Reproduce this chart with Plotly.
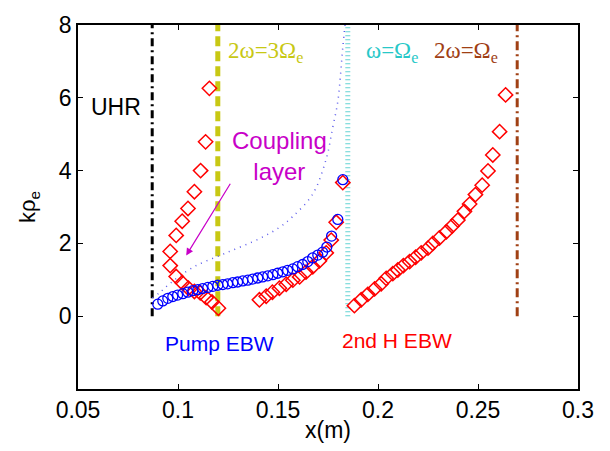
import plotly.graph_objects as go

# Pump EBW (blue circles)
pump_x = [0.0899, 0.0924, 0.0949, 0.0974, 0.0998, 0.1024, 0.1049, 0.1074, 0.1099, 0.1123,
          0.1149, 0.1174, 0.1199, 0.1224, 0.1248, 0.1274, 0.1298, 0.1324, 0.1349, 0.1373,
          0.1399, 0.1423, 0.1449, 0.1474, 0.1498, 0.1524, 0.1548, 0.1574, 0.1598, 0.1623,
          0.1649, 0.1673, 0.1699, 0.1723, 0.1744, 0.1768, 0.1799, 0.1824]
pump_k = [0.33, 0.42, 0.49, 0.54, 0.58, 0.62, 0.66, 0.70, 0.73, 0.76,
          0.79, 0.82, 0.85, 0.87, 0.89, 0.92, 0.94, 0.97, 0.99, 1.02,
          1.05, 1.08, 1.11, 1.14, 1.18, 1.22, 1.26, 1.30, 1.36, 1.42,
          1.50, 1.60, 1.68, 1.76, 1.90, 2.20, 2.66, 3.75]

# Dotted dispersion curve
curve_x = [0.0872, 0.0907, 0.0960, 0.1074, 0.1241, 0.1407, 0.1507, 0.1574, 0.1674, 0.1741,
           0.1774, 0.1799, 0.1824, 0.1835]
curve_k = [0.50, 0.64, 0.90, 1.34, 1.74, 2.13, 2.44, 2.74, 3.36, 4.32, 5.20, 5.90, 7.39, 8.0]

# 2nd harmonic EBW (red diamonds), three branches
h1_x = [0.1157, 0.1138, 0.1113, 0.1082, 0.1050, 0.1021, 0.0991, 0.0961, 0.0961, 0.0991,
        0.1021, 0.1052, 0.1082, 0.1111, 0.1141, 0.1170, 0.1202]
h1_k = [6.26, 4.79, 4.00, 3.42, 2.96, 2.61, 2.22, 1.78, 1.39, 1.09,
        0.92, 0.77, 0.68, 0.64, 0.51, 0.39, 0.22]
h2_x = [0.1407, 0.1441, 0.1472, 0.1507, 0.1541, 0.1574, 0.1608, 0.1640, 0.1674, 0.1707,
        0.1741, 0.1766, 0.1791, 0.1824]
h2_k = [0.45, 0.55, 0.66, 0.77, 0.88, 0.99, 1.08, 1.21, 1.36, 1.52,
        1.74, 2.09, 2.58, 3.67]
h3_x = [0.1882, 0.1916, 0.1949, 0.1983, 0.2016, 0.2041, 0.2074, 0.2099, 0.2127, 0.2158,
        0.2188, 0.2216, 0.2250, 0.2274, 0.2307, 0.2342, 0.2371, 0.2399, 0.2432, 0.2458,
        0.2487, 0.2521, 0.2550, 0.2574, 0.2608, 0.2638]
h3_k = [0.29, 0.45, 0.60, 0.75, 0.89, 1.04, 1.17, 1.27, 1.39, 1.50,
        1.62, 1.74, 1.87, 2.00, 2.15, 2.32, 2.48, 2.64, 2.88, 3.08,
        3.34, 3.60, 3.99, 4.43, 5.07, 6.08]

# Resonance lines
uhr_x = 0.0871
three_x = 0.1199
one_x = 0.1849
two_x = 0.2696

fig = go.Figure()

def vline(x, color, width, dash):
    fig.add_trace(go.Scatter(x=[x, x], y=[0, 8], mode="lines",
                             line=dict(color=color, width=width, dash=dash),
                             showlegend=False, hoverinfo="skip"))

vline(uhr_x, "black", 3, "8px,4px,2px,4px")
vline(three_x, "rgb(200,200,20)", 5, "10px,5px")
vline(one_x, "rgb(100,212,212)", 5, "1px,3px")
vline(two_x, "rgb(160,64,20)", 3, "9px,4px,2px,4px")

fig.add_trace(go.Scatter(x=curve_x, y=curve_k, mode="lines", line_shape="spline",
                         line=dict(color="rgb(90,90,235)", width=1.5, dash="1px,5px"),
                         showlegend=False))

mk_d = dict(symbol="diamond-open", size=11, color="red", line=dict(width=1.5, color="red"))
for xs, ks in [(h1_x, h1_k), (h2_x, h2_k), (h3_x, h3_k)]:
    fig.add_trace(go.Scatter(x=xs, y=ks, mode="markers", marker=mk_d, showlegend=False))

fig.add_trace(go.Scatter(x=pump_x, y=pump_k, mode="markers",
                         marker=dict(symbol="circle-open", size=10, color="blue",
                                     line=dict(width=1.3, color="blue")),
                         showlegend=False))

sans = "Liberation Sans"
serif = "Liberation Serif"

def ann(text, x, y, color, size=19, font=sans, xanchor="center"):
    fig.add_annotation(x=x, y=y, text=text, showarrow=False, xanchor=xanchor,
                       font=dict(family=font, size=size, color=color))

ann("UHR", 0.0690, 5.74, "black", size=23)
ann("2ω=3Ω<sub>e</sub>", 0.1238, 7.25, "rgb(200,200,20)", size=23, font=serif, xanchor="left")
ann("ω=Ω<sub>e</sub>", 0.1930, 7.25, "rgb(40,200,200)", size=23, font=serif, xanchor="left")
ann("2ω=Ω<sub>e</sub>", 0.2271, 7.25, "rgb(160,64,20)", size=23, font=serif, xanchor="left")
ann("Coupling<br>layer", 0.1508, 4.39, "rgb(200,0,200)", size=24)
ann("Pump EBW", 0.1208, -0.75, "blue", size=21)
ann("2nd H EBW", 0.2095, -0.68, "red", size=21)

fig.add_annotation(x=0.1041, y=1.67, ax=0.1266, ay=3.68, xref="x", yref="y",
                   axref="x", ayref="y", text="", showarrow=True, arrowhead=2,
                   arrowsize=1.2, arrowwidth=1.2, arrowcolor="rgb(200,0,200)")

axis_common = dict(showline=True, linecolor="black", linewidth=1.5, mirror="ticks",
                   ticks="inside", ticklen=5, tickcolor="black", showgrid=False,
                   zeroline=False, tickfont=dict(family=sans, size=23, color="black"))

fig.update_xaxes(range=[0.05, 0.3], tickvals=[0.05, 0.1, 0.15, 0.2, 0.25, 0.3],
                 ticktext=["0.05", "0.1", "0.15", "0.2", "0.25", "0.3"],
                 title=dict(text="x(m)", font=dict(family=sans, size=23, color="black"),
                            standoff=0), **axis_common)
fig.update_yaxes(range=[-2, 8], tickvals=[0, 2, 4, 6, 8],
                 title=dict(text="kρ<sub>e</sub>", font=dict(family=sans, size=22, color="black"),
                            standoff=17), **axis_common)

fig.update_layout(width=610, height=451, margin=dict(l=78, r=32, t=17, b=53),
                  plot_bgcolor="white", paper_bgcolor="white")

fig.write_html("out.html")
